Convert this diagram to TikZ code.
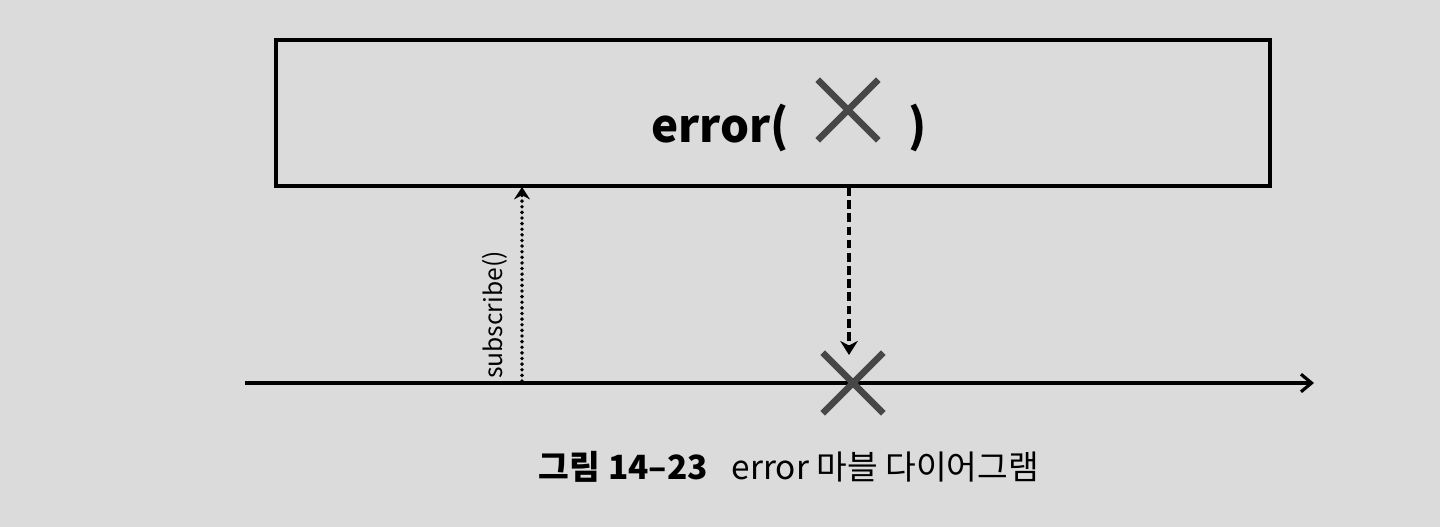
\documentclass[tikz,border=0pt]{standalone}
\usepackage{fontspec}
\setmainfont{Noto Sans CJK KR}
\usepackage{tikz}
\usetikzlibrary{shapes.misc,arrows.meta}

\begin{document}
\begin{tikzpicture}[x=0.02cm,y=-0.02cm]
  \fill[black!14] (0,0) rectangle (1440,527);
  \useasboundingbox (0,0) rectangle (1440,527);
  \tikzset{xmark/.style={cross out, draw=black!72, line width=3.8pt, minimum size=1.08cm, inner sep=0pt}}
  \node[draw, line width=2pt, minimum width=19.88cm, minimum height=2.92cm] at (773,113) (op) {};
  \node at (720,128) (label) {\fontsize{26}{30}\selectfont\bfseries error(};
  \node[xmark] at (848,110) (ex) {};
  \node at (918,128) (rp) {\fontsize{26}{30}\selectfont\bfseries )};
  \coordinate (t0) at (245,383);
  \coordinate (t1) at (1314,383);
  \draw[line width=1.8pt, -{Straight Barb[length=6pt,width=10pt]}] (t0) -- (t1);
  \coordinate (s0) at (522,381);
  \coordinate (s1) at (522,187);
  \draw[line width=2.2pt, dash pattern=on 0pt off 3.2pt, line cap=round, -{Stealth[length=7pt,width=9pt]}] (s0) -- (s1);
  \node[rotate=90, anchor=south] at (514,315) (sub) {\fontsize{14}{16}\selectfont subscribe()};
  \node[xmark] at (853,383) (ey) {};
  \coordinate (e0) at (849,187);
  \draw[line width=1.8pt, dash pattern=on 5pt off 2.5pt, -{Stealth[length=8pt,width=10pt]}] (e0) -- (849,355);
  \node at (789,467) (cap) {\fontsize{19}{22}\selectfont\textbf{그림 14–23}\enspace\ error 마블 다이어그램};
\end{tikzpicture}
\end{document}
